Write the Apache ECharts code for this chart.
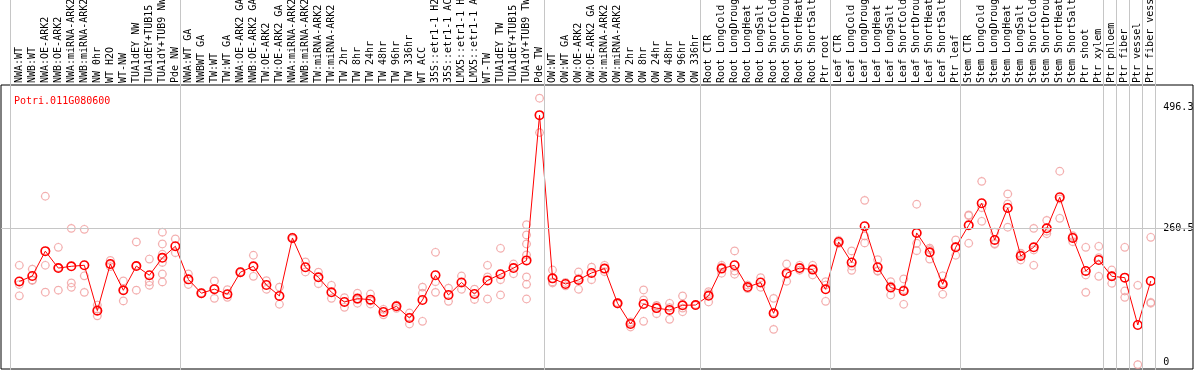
<!DOCTYPE html>
<html><head><meta charset="utf-8">
<script src="https://cdn.jsdelivr.net/npm/echarts@6/dist/echarts.min.js"></script>
<style>html,body{margin:0;padding:0;background:#fff}#c{width:1194px;height:370px}</style>
</head><body><div id="c"></div>
<script>
const geneName = "Potri.011G080600";
const categories = [
"NWA:WT","NWB:WT","NWA:OE-ARK2","NWB:OE-ARK2","NWA:miRNA-ARK2","NWB:miRNA-ARK2","NW 0hr","WT H2O","WT-NW","TUA1dEY NW","TUA1dEY+TUB15","TUA1dY+TUB9 NW","Pde NW",
"NWA:WT GA","NWBWT GA","TW:WT","TW:WT GA","NWA:OE-ARK2 GA","NWB:OE-ARK2 GA","TW:OE-ARK2","TW:OE-ARK2 GA","NWA:miRNA-ARK2","NWB:miRNA-ARK2","TW:miRNA-ARK2","TW:miRNA-ARK2","TW 2hr","TW 8hr","TW 24hr","TW 48hr","TW 96hr","TW 336hr","WT ACC","35S::etr1-1 H2","35S::etr1-1 AC","LMX5::etr1-1 H","LMX5::etr1-1 A","WT-TW","TUA1dEY TW","TUA1dEY+TUB15","TUA1dY+TUB9 TW","Pde TW",
"OW:WT","OW:WT GA","OW:OE-ARK2","OW:OE-ARK2 GA","OW:miRNA-ARK2","OW:miRNA-ARK2","OW 2hr","OW 8hr","OW 24hr","OW 48hr","OW 96hr","OW 336hr",
"Root CTR","Root LongCold","Root LongDroug","Root LongHeat","Root LongSalt","Root ShortCold","Root ShortDrou","Root ShortHeat","Root ShortSalt","Ptr root",
"Leaf CTR","Leaf LongCold","Leaf LongDroug","Leaf LongHeat","Leaf LongSalt","Leaf ShortCold","Leaf ShortDrou","Leaf ShortHeat","Leaf ShortSalt","Ptr leaf",
"Stem CTR","Stem LongCold","Stem LongDroug","Stem LongHeat","Stem LongSalt","Stem ShortCold","Stem ShortDrou","Stem ShortHeat","Stem ShortSalt","Ptr shoot","Ptr xylem",
"Ptr phloem","Ptr fiber","Ptr vessel","Ptr fiber vess"];

const means = [
157,167.6,216,183,186.5,188.5,100,191,139.7,187,169,203,225.5,
161,134,142,132,175,186.5,150,128.7,241.7,184.6,165,135.8,117,123.5,121.5,97.5,108.5,85.7,120.8,169,130.6,155,132.5,159,171,183,198,481,
163,152,160,173.5,182,114.4,74,113,105,101.4,110.5,111,
129,182,188.5,146,155,94.9,173,183,180,141.7,
234,194,264.5,184.6,145,138.4,251.5,213.8,151.4,223.5,
266.4,309.3,237.8,300.2,206.6,223.5,260.5,321,241.7,177.4,198.8,
167,164.4,72.1,158];

const replicates = [
[188.5,151,129],[181,160,159],[323,188.5,136],[223.5,184,140],[260.5,154,145.6],[258.6,168,135.8],[111,103,90],[198,190,186],[158,140,119],[234,188,140],[200.6,156.6,149.5],[253,230,210,194,171.5,156],[239.8,213],
[171.5,151],[135,133],[158,124],[141,126],[176,174],[208,167],[158.5,141.7],[146,112.5],[243,240],[195,175.4],[175,152.6],[149.5,124],[125.4,106.6],[134,122,114.5],[132.5,113,119],[102.7,92],[111,104.6],[95.5,74,87],[146,134,79.3],[213.8,156.6,135.8],[144,118.3],[167.6,141.7],[142,122],[188.5,165.7,122.8],[221.6,160.5,130.6],[191,172],[267.6,247.6,230,208.6,165.7,151.4,122.8],[514,447],
[179.3,154,156],[155,148.4],[175.4,141.7,163],[185,160.5],[188.5,176],[116,113],[68.2,76,78],[140.4,121,79.3],[109.8,110,94.2],[114.4,106,83.2],[128.7,105,98],[112,110],
[133,117,137],[188.5,173,185],[216.4,177.4,171],[150,143],[164.4,145.6],[124,63.7,97],[191,157.3,171],[188.5,179],[188.5,169.6,182],[156.6,118.3,150],
[237,231],[216.4,178.7,187],[315,245.6,232],[199.4,176.8,178],[156.6,130.6,148],[161.8,112.5,141],[307.4,231.4,217],[222,200.6,219],[168,132,154],[237.8,208,225],
[286.5,285,231.4],[352,300.8,274.2],[252.8,229.4,231],[327.5,308,262.6],[212,198.8,209],[260.5,218.3,188.5],[276,250,255],[371.7,317.7,280],[246,234.5,244],[223.5,169.6,135.8],[225.5,203.3,167],
[179.3,153.4,168],[223.5,138.4,126],[149.5,-5],[243,116.4,114.6]];

const groupBreaks = [0,13,41,53,63,73,84,85,86,87,88];
const yTickLabels = [0, 260.5, 496.3];
const refLineValue = 260.5;
const yMin = -13.64, yMax = 539.75;

const repPoints = [];
replicates.forEach((arr, i) => arr.forEach(v => repPoints.push([i, v])));

const font = "'DejaVu Sans Mono', monospace";
const gridGrey = '#c6c6c6';
// circle with small spikes, like the reference markers
const gearSymbol = 'path://M50,8 A42,42 0 1 1 49.9,8 Z M50,0 L50,10 M50,90 L50,100 M0,50 L10,50 M90,50 L100,50';
const chart = echarts.init(document.getElementById('c'), null, {renderer: 'canvas'});
chart.setOption({
  animation: false,
  title: {text: geneName, left: 9, top: 91, textStyle: {color: '#ff0000', fontSize: 10, fontWeight: 'normal', fontFamily: font}},
  grid: [
    {left: 12.8, right: 36.7, top: 85, bottom: 1, containLabel: false, outerBoundsMode: 'none'},
    {left: 1, right: 1, top: 85, bottom: 1, show: true, borderColor: '#000', borderWidth: 1, backgroundColor: 'transparent', containLabel: false, outerBoundsMode: 'none'},
    {left: 10.7, right: 38.3, top: 0, bottom: 0, containLabel: false, outerBoundsMode: 'none'}
  ],
  xAxis: [
    {gridIndex: 0, type: 'category', data: categories, position: 'top', boundaryGap: true,
     axisLine: {show: false}, axisTick: {show: false}, splitLine: {show: false},
     axisLabel: {interval: 0, rotate: 90, margin: 2, fontSize: 10, fontFamily: font, color: '#000'}},
    {gridIndex: 1, type: 'value', show: false, min: 0, max: 1},
    {gridIndex: 2, type: 'value', show: false, min: 0, max: categories.length}
  ],
  yAxis: [
    {gridIndex: 0, type: 'value', min: yMin, max: yMax, position: 'right',
     axisLine: {show: false}, axisTick: {show: false}, splitLine: {show: false},
     axisLabel: {customValues: yTickLabels, margin: 6, fontSize: 10, fontFamily: font, color: '#000', formatter: v => String(v)}},
    {gridIndex: 1, type: 'value', show: false, min: yMin, max: yMax},
    {gridIndex: 2, type: 'value', show: false, min: 0, max: 1}
  ],
  series: [
    {type: 'line', xAxisIndex: 2, yAxisIndex: 2, data: [], silent: true, z: 1,
     markLine: {silent: true, symbol: 'none', label: {show: false}, animation: false,
       lineStyle: {color: gridGrey, width: 1, type: 'solid'},
       data: groupBreaks.map(b => ({xAxis: b}))}},
    {type: 'line', xAxisIndex: 1, yAxisIndex: 1, data: [], silent: true, z: 1,
     markLine: {silent: true, symbol: 'none', label: {show: false}, animation: false,
       lineStyle: {color: gridGrey, width: 1, type: 'solid'},
       data: [{yAxis: refLineValue}]}},
    {type: 'scatter', xAxisIndex: 0, yAxisIndex: 0, data: repPoints, symbol: gearSymbol, symbolSize: 9, z: 3,
     itemStyle: {color: 'transparent', borderColor: '#f09a9a', borderWidth: 1.2}},
    {type: 'line', xAxisIndex: 0, yAxisIndex: 0, data: means, symbol: gearSymbol, symbolSize: 10, z: 4,
     showAllSymbol: true,
     lineStyle: {color: '#ff0000', width: 1},
     itemStyle: {color: 'transparent', borderColor: '#ff0000', borderWidth: 1.6}}
  ]
});
</script></body></html>
